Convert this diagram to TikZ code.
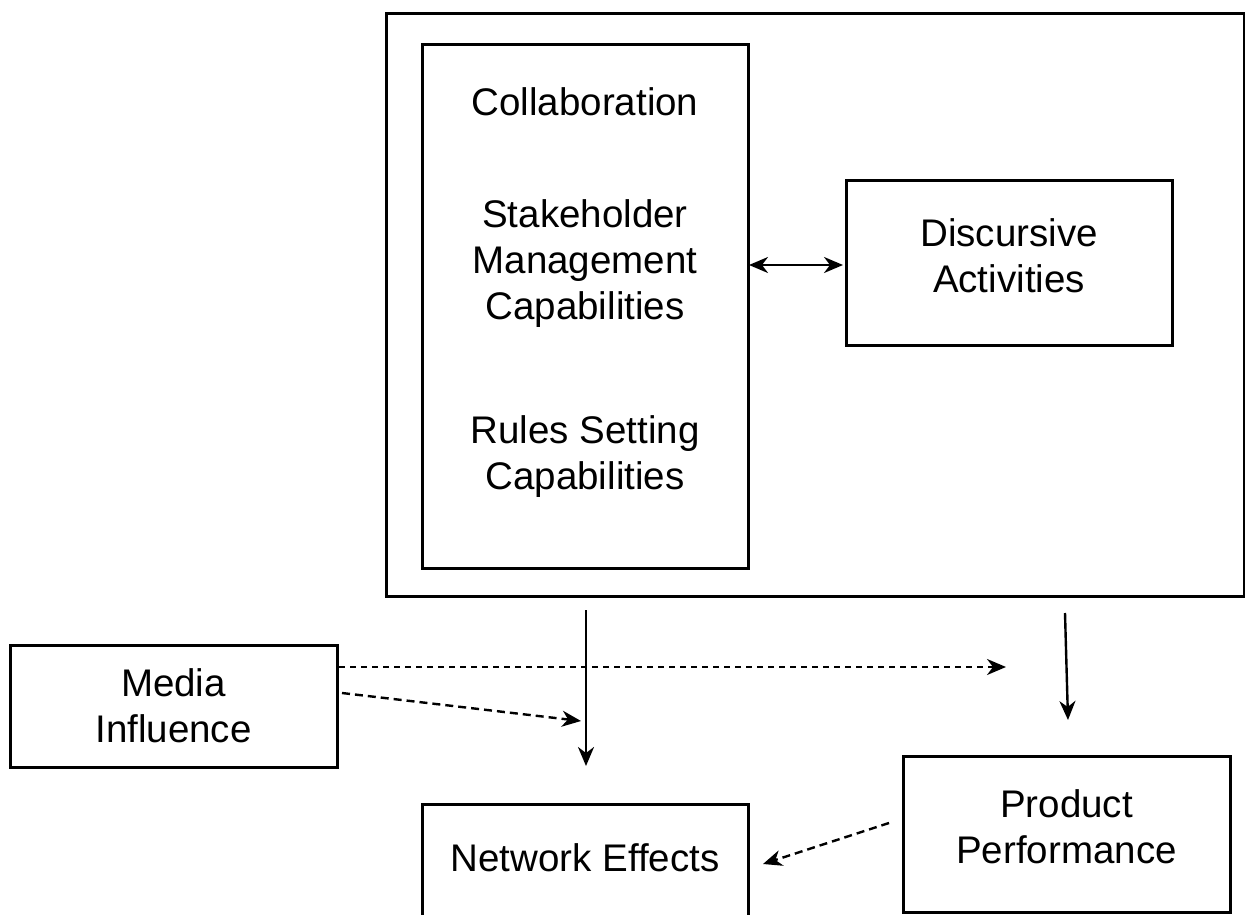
\documentclass[tikz,border=0pt]{standalone}
\usepackage{fontspec}
\setmainfont{Liberation Sans}
\usetikzlibrary{arrows.meta}
\begin{document}
\begin{tikzpicture}[x=1pt,y=-1pt,
  box/.style={draw, line width=3pt, rectangle, inner sep=0pt},
  lbl/.style={align=center, font=\fontsize{38.5}{46}\selectfont, inner sep=0pt},
  tip/.style={Stealth[length=19pt,width=16pt,inset=6pt]},
  conn/.style={line width=2.4pt, -{Stealth[length=19pt,width=16pt,inset=6pt]}},
  dotconn/.style={conn, dash pattern=on 6pt off 5pt},
  dashconn/.style={conn, dash pattern=on 8pt off 5pt}]
\useasboundingbox (0,0) rectangle (1245,915);
\clip (0,0) rectangle (1245,915);
% boxes
\node[box, minimum width=858pt, minimum height=582pt] (outer) at (815,305) {};
\node[box, minimum width=326pt, minimum height=523pt] (inner) at (585,306.5) {};
\node[box, minimum width=326pt, minimum height=165pt] (disc) at (1009,262.5) {};
\node[box, minimum width=327pt, minimum height=122pt] (media) at (173.5,706) {};
\node[box, minimum width=326pt, minimum height=220pt] (netbox) at (585,914) {};
\node[box, minimum width=327pt, minimum height=156pt] (prod) at (1066.5,834) {};
% texts
\node[lbl] (collab) at (585,102) {Collaboration};
\node[lbl] (stake) at (585,264) {Stakeholder\\Management\\Capabilities};
\node[lbl] (rules) at (585,457) {Rules Setting\\Capabilities};
\node[lbl] (disctext) at (1009,256) {Discursive\\Activities};
\node[lbl] (mediatext) at (173.5,706) {Media\\Influence};
\node[lbl] (nettext) at (585,858) {Network Effects};
\node[lbl] (prodtext) at (1066.5,827) {Product\\Performance};
% connector endpoints
\coordinate (dA) at (749,265);
\coordinate (dB) at (843,265);
\coordinate (v1s) at (586,610);
\coordinate (v1e) at (586,766);
\coordinate (v2s) at (1065,613);
\coordinate (v2e) at (1068,720);
\coordinate (hs) at (339,667);
\coordinate (he) at (1006,667);
\coordinate (ds) at (342,693);
\coordinate (de) at (581,721);
\coordinate (ps) at (889,823);
\coordinate (pe) at (763,864);
% connectors
\draw[conn, {Stealth[length=19pt,width=16pt,inset=6pt]}-{Stealth[length=19pt,width=16pt,inset=6pt]}] (dA) -- (dB);
\draw[conn] (v1s) -- (v1e);
\draw[conn] (v2s) -- (v2e);
\draw[dotconn] (hs) -- (he);
\draw[dashconn] (ds) -- (de);
\draw[dashconn] (ps) -- (pe);
\end{tikzpicture}
\end{document}
